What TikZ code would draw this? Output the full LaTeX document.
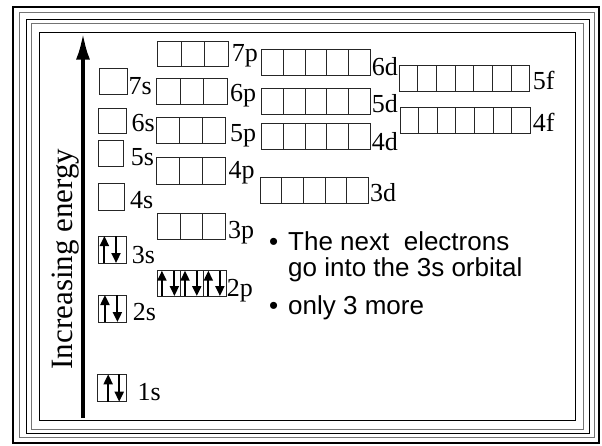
\documentclass[tikz,border=0pt]{standalone}
\usepackage{fontspec}
\setmainfont{Liberation Serif}
\newfontfamily\bulletfont{Liberation Sans}
\usetikzlibrary{arrows.meta,calc}
\newcommand\orbrow[6]{%
  \foreach \i in {1,...,#4}{%
    \node[obox,minimum width=#5pt,minimum height=#6pt] (#1\i) at ({#2+(\i-1)*#5},#3) {};}}
\newcommand\pairspin[3]{%
  \draw[spin] ($(#1.south west)!#2!(#1.south east)$) -- ($(#1.north west)!#2!(#1.north east)$);
  \draw[spin] ($(#1.north west)!#3!(#1.north east)$) -- ($(#1.south west)!#3!(#1.south east)$);}
\begin{document}
\begin{tikzpicture}[x=1pt,y=-1pt,
  framethick/.style={draw=black,line width=2pt},
  framethin/.style={draw=black,line width=1pt},
  framegray/.style={draw=black!55,line width=1pt},
  obox/.style={draw=black!85,line width=1pt,inner sep=0pt,outer sep=0pt,anchor=north west},
  olabel/.style={anchor=base west,inner sep=0pt,font=\fontsize{26}{26}\selectfont},
  spin/.style={line width=2pt,-{Triangle[length=10pt,width=9pt]}},
  energyarrow/.style={line width=3.5pt,-{Latex[length=26pt,width=14pt]}},
  btext/.style={anchor=base west,inner sep=0pt,font=\bulletfont\fontsize{26}{26}\selectfont}]
\useasboundingbox (0,0) rectangle (602,445);
% frame
\draw[framethick] (13,6.5) rectangle (599,443);
\draw[framegray] (19,12.7) rectangle (594,437);
\draw[framethin] (26.7,19) rectangle (589,433);
\draw[framegray] (31.7,23.5) rectangle (583,429);
\draw[framethin] (39.3,32.7) rectangle (575,420);
% energy axis
\coordinate (abot) at (83,418);
\coordinate (atop) at (83,33.5);
\draw[energyarrow] (abot) -- (atop);
\node[rotate=90,anchor=base,inner sep=0pt,font=\fontsize{31}{31}\selectfont] (energy) at (72,259) {Increasing energy};
% s orbitals
\orbrow{s7}{99.3}{68.3}{1}{27.7}{26}
\orbrow{s6}{98.3}{108}{1}{27.7}{25.3}
\orbrow{s5}{98.3}{140}{1}{25.3}{26}
\orbrow{s4}{98.3}{183}{1}{25.7}{27}
\orbrow{s3}{98.3}{236}{1}{27.7}{27}
\orbrow{s2}{98.3}{295}{1}{27.7}{27}
\orbrow{s1}{97.7}{374.3}{1}{28.3}{27.4}
\node[olabel] (l7s) at (128.5,94) {7s};
\node[olabel] (l6s) at (131.5,131) {6s};
\node[olabel] (l5s) at (130.7,165) {5s};
\node[olabel] (l4s) at (130,208) {4s};
\node[olabel] (l3s) at (131.7,263) {3s};
\node[olabel] (l2s) at (132.7,320) {2s};
\node[olabel] (l1s) at (137.3,400) {1s};
% p orbitals
\orbrow{p7}{157.3}{41.7}{3}{23.7}{25}
\orbrow{p6}{156.7}{78.3}{3}{23.5}{25.7}
\orbrow{p5}{156.7}{117.3}{3}{22.8}{26}
\orbrow{p4}{156.7}{157.3}{3}{22.8}{26.7}
\orbrow{p3}{157.3}{213}{3}{22.8}{26.3}
\orbrow{p2}{157.3}{270.7}{3}{23.1}{25.3}
\node[olabel] (l7p) at (231.7,61) {7p};
\node[olabel] (l6p) at (230,101.7) {6p};
\node[olabel] (l5p) at (230,141.7) {5p};
\node[olabel] (l4p) at (228.3,178) {4p};
\node[olabel] (l3p) at (228,238) {3p};
\node[olabel] (l2p) at (226.7,296) {2p};
% d orbitals
\orbrow{d6}{261.7}{49}{5}{21.7}{26}
\orbrow{d5}{261.7}{88.3}{5}{21.7}{25.7}
\orbrow{d4}{261.7}{123.3}{5}{21.7}{26}
\orbrow{d3}{260}{177.3}{5}{21.7}{26}
\node[olabel] (l6d) at (371.7,75) {6d};
\node[olabel] (l5d) at (371.7,112.7) {5d};
\node[olabel] (l4d) at (371.7,150) {4d};
\node[olabel] (l3d) at (370,201.7) {3d};
% f orbitals
\orbrow{f5}{399}{65.5}{7}{18.7}{25.5}
\orbrow{f4}{400}{107.5}{7}{18.6}{26}
\node[olabel] (l5f) at (532.7,89.3) {5f};
\node[olabel] (l4f) at (532.7,131.7) {4f};
% electrons
\pairspin{s11}{0.37}{0.76}
\pairspin{s21}{0.24}{0.69}
\pairspin{s31}{0.22}{0.64}
\pairspin{p21}{0.2}{0.74}
\pairspin{p22}{0.2}{0.71}
\pairspin{p23}{0.21}{0.71}
% text
\node[btext] (bul1) at (269,250) {•};
\node[btext] (t1) at (288,250) {The next\ \ electrons};
\node[btext] (t2) at (288,276) {go into the 3s orbital};
\node[btext] (bul2) at (269,314) {•};
\node[btext] (t3) at (288,314) {only 3 more};
\end{tikzpicture}
\end{document}
